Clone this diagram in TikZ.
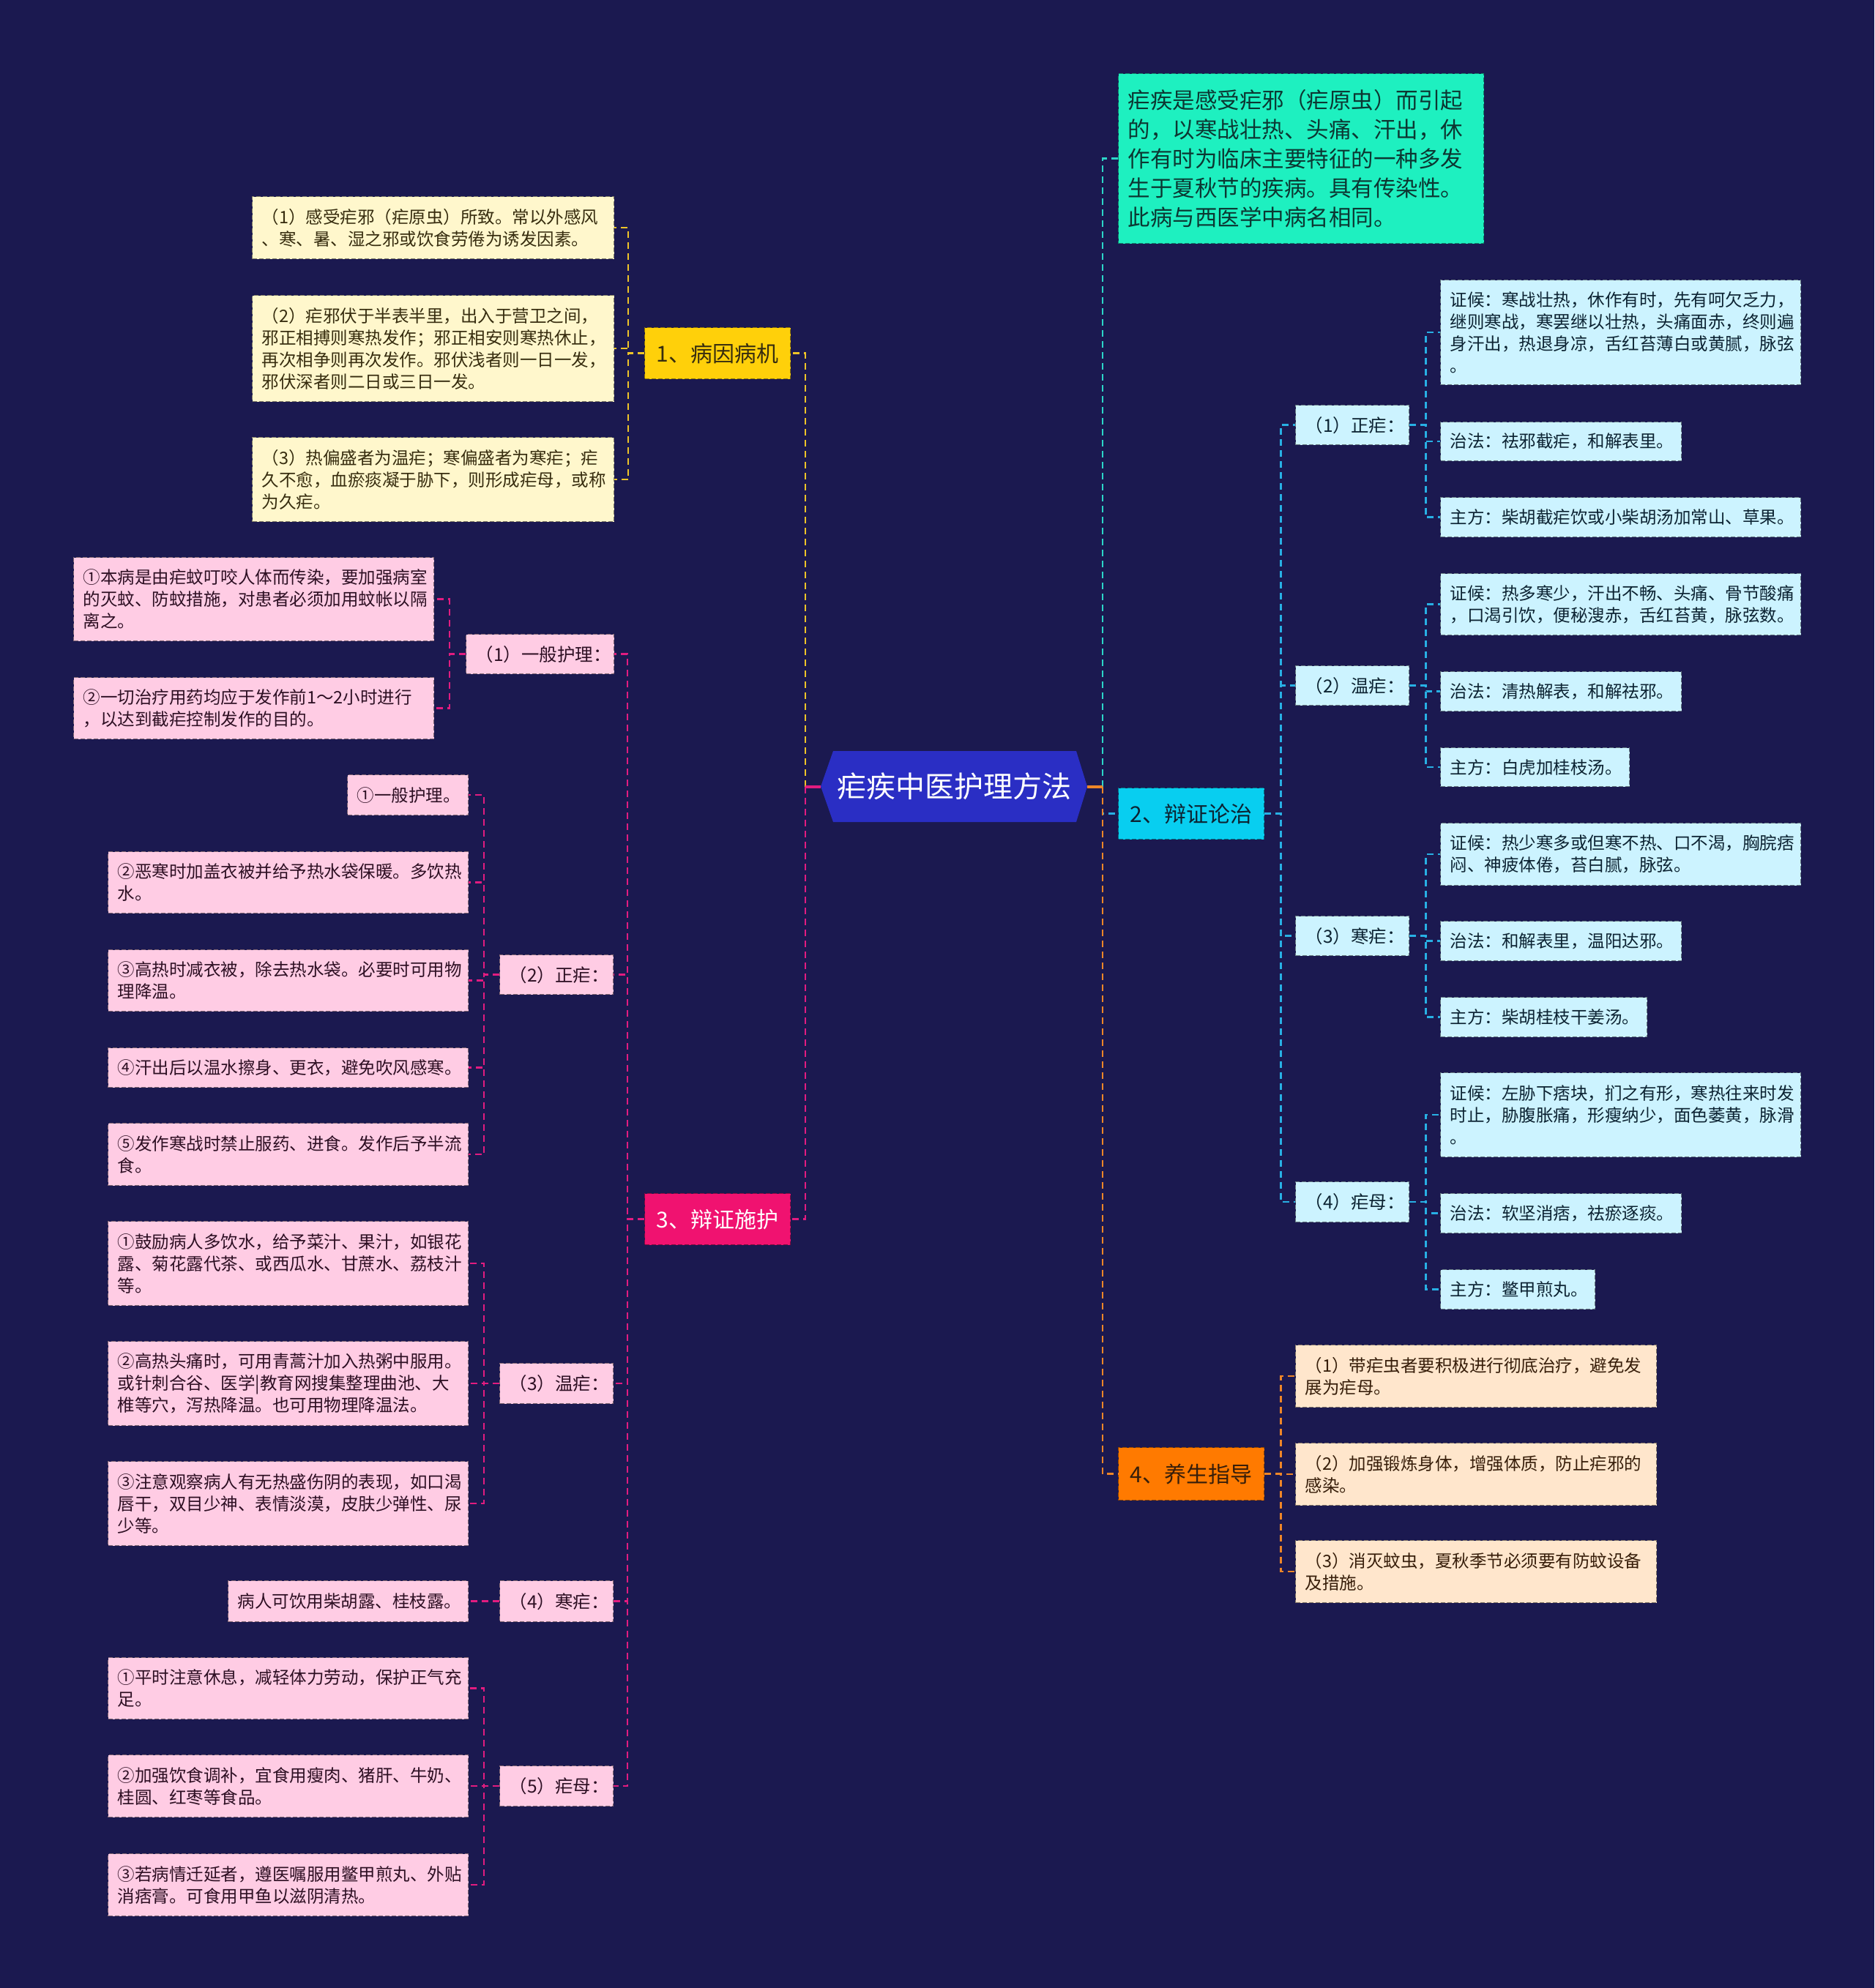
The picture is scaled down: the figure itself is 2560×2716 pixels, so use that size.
\documentclass[tikz,border=0pt]{standalone}
\usepackage{fontspec}
\setmainfont{Noto Sans CJK SC}
\definecolor{bg}{RGB}{27,25,80}
\definecolor{rootc}{RGB}{42,46,196}
\definecolor{ybr}{RGB}{255,208,10}
\definecolor{yleaf}{RGB}{255,247,204}
\definecolor{yln}{RGB}{238,196,40}
\definecolor{ytext}{RGB}{55,45,15}
\definecolor{pbr}{RGB}{240,18,112}
\definecolor{pleaf}{RGB}{255,204,228}
\definecolor{pln}{RGB}{226,28,128}
\definecolor{ptext}{RGB}{45,15,35}
\definecolor{cbr}{RGB}{8,206,240}
\definecolor{cleaf}{RGB}{204,243,255}
\definecolor{cln}{RGB}{40,176,228}
\definecolor{ctext}{RGB}{12,35,50}
\definecolor{tbox}{RGB}{30,240,192}
\definecolor{tln}{RGB}{44,214,200}
\definecolor{ttext}{RGB}{12,55,50}
\definecolor{obr}{RGB}{255,122,0}
\definecolor{oleaf}{RGB}{255,230,204}
\definecolor{oln}{RGB}{238,134,40}
\definecolor{otext}{RGB}{55,30,10}
\newcommand\bx[7]{\pgfmathsetmacro\bxw{#5-26}\node[#1,anchor=north west,text width=\bxw pt,minimum height=#6pt] (#2) at (#3,#4) {#7};}
\tikzset{
  boxbase/.style={rectangle, inner xsep=13pt, inner ysep=0pt, dashed, dash pattern=on 6pt off 3pt, line width=1.4pt},
  leaffont/.style={font=\fontsize{23.5}{30}\selectfont, align=left},
  midfont/.style={font=\fontsize{24.5}{30}\selectfont, align=center},
  brfont/.style={font=\fontsize{30}{36}\selectfont, align=center},
  yleafbox/.style={boxbase, leaffont, fill=yleaf, draw=yleaf!50!black, text=ytext},
  pleafbox/.style={boxbase, leaffont, fill=pleaf, draw=pleaf!50!black, text=ptext},
  pmidbox/.style={boxbase, midfont, fill=pleaf, draw=pleaf!50!black, text=ptext},
  cleafbox/.style={boxbase, leaffont, fill=cleaf, draw=cleaf!50!black, text=ctext},
  cmidbox/.style={boxbase, midfont, fill=cleaf, draw=cleaf!50!black, text=ctext},
  oleafbox/.style={boxbase, leaffont, fill=oleaf, draw=oleaf!50!black, text=otext},
  ybrbox/.style={boxbase, brfont, fill=ybr, draw=ybr!55!black, text=ytext},
  pbrbox/.style={boxbase, brfont, fill=pbr, draw=pbr!55!black, text=white},
  cbrbox/.style={boxbase, brfont, fill=cbr, draw=cbr!55!black, text=ctext},
  obrbox/.style={boxbase, brfont, fill=obr, draw=obr!55!black, text=otext},
  introbox/.style={boxbase, font=\fontsize{30.5}{40}\selectfont, align=left, fill=tbox, draw=tbox!55!black, text=ttext},
  conn/.style={dash pattern=on 9pt off 6pt, line width=2.5pt},
  solidconn/.style={line width=4pt},
}
\begin{document}
\begin{tikzpicture}[x=1pt,y=-1pt]
\fill[bg] (0,0) rectangle (2560,2716);
\useasboundingbox (0,0) rectangle (2560,2716);

% root
\fill[rootc] (1138,1026) -- (1470,1026) -- (1485,1074.5) -- (1470,1123) -- (1138,1123) -- (1121,1074.5) -- cycle;
\node[minimum width=364pt, minimum height=97pt, inner sep=0pt, text=white, font=\fontsize{40}{48}\selectfont] (root) at (1303,1074.5) {疟疾中医护理方法};

% intro
\bx{introbox}{intro}{1527}{100}{499}{232}{疟疾是感受疟邪（疟原虫）而引起\\的，以寒战壮热、头痛、汗出，休\\作有时为临床主要特征的一种多发\\生于夏秋节的疾病。具有传染性。\\此病与西医学中病名相同。}

% branch 1
\bx{ybrbox}{byjb}{880}{447}{199}{70}{1、病因病机}
\bx{yleafbox}{y1}{344}{268}{494}{85}{（1）感受疟邪（疟原虫）所致。常以外感风\\、寒、暑、湿之邪或饮食劳倦为诱发因素。}
\bx{yleafbox}{y2}{344}{403}{494}{145}{（2）疟邪伏于半表半里，出入于营卫之间，\\邪正相搏则寒热发作；邪正相安则寒热休止，\\再次相争则再次发作。邪伏浅者则一日一发，\\邪伏深者则二日或三日一发。}
\bx{yleafbox}{y3}{344}{597}{494}{115}{（3）热偏盛者为温疟；寒偏盛者为寒疟；疟\\久不愈，血瘀痰凝于胁下，则形成疟母，或称\\为久疟。}

% branch 3
\bx{pbrbox}{bzsh}{880}{1630}{199}{70}{3、辩证施护}
\bx{pmidbox}{p1}{636}{866}{202}{54}{（1）一般护理：}
\bx{pleafbox}{p1a}{100}{761}{492}{114}{①本病是由疟蚊叮咬人体而传染，要加强病室\\的灭蚊、防蚊措施，对患者必须加用蚊帐以隔\\离之。}
\bx{pleafbox}{p1b}{100}{925}{492}{84}{②一切治疗用药均应于发作前1～2小时进行\\，以达到截疟控制发作的目的。}
\bx{pmidbox}{p2}{682}{1304}{155}{54}{（2）正疟：}
\bx{pleafbox}{p2a}{474}{1058}{165}{55}{①一般护理。}
\bx{pleafbox}{p2b}{147}{1163}{492}{84}{②恶寒时加盖衣被并给予热水袋保暖。多饮热\\水。}
\bx{pleafbox}{p2c}{147}{1297}{492}{84}{③高热时减衣被，除去热水袋。必要时可用物\\理降温。}
\bx{pleafbox}{p2d}{147}{1431}{492}{54}{④汗出后以温水擦身、更衣，避免吹风感寒。}
\bx{pleafbox}{p2e}{147}{1534}{492}{85}{⑤发作寒战时禁止服药、进食。发作后予半流\\食。}
\bx{pmidbox}{p3}{682}{1862}{155}{55}{（3）温疟：}
\bx{pleafbox}{p3a}{147}{1668}{492}{115}{①鼓励病人多饮水，给予菜汁、果汁，如银花\\露、菊花露代茶、或西瓜水、甘蔗水、荔枝汁\\等。}
\bx{pleafbox}{p3b}{147}{1832}{492}{115}{②高热头痛时，可用青蒿汁加入热粥中服用。\\或针刺合谷、医学|教育网搜集整理曲池、大\\椎等穴，泻热降温。也可用物理降温法。}
\bx{pleafbox}{p3c}{147}{1996}{492}{115}{③注意观察病人有无热盛伤阴的表现，如口渴\\唇干，双目少神、表情淡漠，皮肤少弹性、尿\\少等。}
\bx{pmidbox}{p4}{682}{2159}{155}{56}{（4）寒疟：}
\bx{pleafbox}{p4a}{311}{2159}{328}{56}{病人可饮用柴胡露、桂枝露。}
\bx{pmidbox}{p5}{682}{2412}{155}{55}{（5）疟母：}
\bx{pleafbox}{p5a}{147}{2264}{492}{84}{①平时注意休息，减轻体力劳动，保护正气充\\足。}
\bx{pleafbox}{p5b}{147}{2397}{492}{85}{②加强饮食调补，宜食用瘦肉、猪肝、牛奶、\\桂圆、红枣等食品。}
\bx{pleafbox}{p5c}{147}{2532}{492}{85}{③若病情迁延者，遵医嘱服用鳖甲煎丸、外贴\\消痞膏。可食用甲鱼以滋阴清热。}

% branch 2
\bx{cbrbox}{bzlz}{1527}{1076}{199}{70}{2、辩证论治}
\bx{cmidbox}{c1}{1769}{553}{155}{54}{（1）正疟：}
\bx{cleafbox}{c1a}{1967}{382}{492}{143}{证候：寒战壮热，休作有时，先有呵欠乏力，\\继则寒战，寒罢继以壮热，头痛面赤，终则遍\\身汗出，热退身凉，舌红苔薄白或黄腻，脉弦\\。}
\bx{cleafbox}{c1b}{1967}{576}{329}{53}{治法：祛邪截疟，和解表里。}
\bx{cleafbox}{c1c}{1967}{679}{492}{54}{主方：柴胡截疟饮或小柴胡汤加常山、草果。}
\bx{cmidbox}{c2}{1769}{909}{155}{54}{（2）温疟：}
\bx{cleafbox}{c2a}{1967}{783}{492}{84}{证候：热多寒少，汗出不畅、头痛、骨节酸痛\\，口渴引饮，便秘溲赤，舌红苔黄，脉弦数。}
\bx{cleafbox}{c2b}{1967}{917}{329}{54}{治法：清热解表，和解祛邪。}
\bx{cleafbox}{c2c}{1967}{1021}{258}{53}{主方：白虎加桂枝汤。}
\bx{cmidbox}{c3}{1769}{1251}{155}{54}{（3）寒疟：}
\bx{cleafbox}{c3a}{1967}{1124}{492}{85}{证候：热少寒多或但寒不热、口不渴，胸脘痞\\闷、神疲体倦，苔白腻，脉弦。}
\bx{cleafbox}{c3b}{1967}{1258}{329}{54}{治法：和解表里，温阳达邪。}
\bx{cleafbox}{c3c}{1967}{1362}{282}{54}{主方：柴胡桂枝干姜汤。}
\bx{cmidbox}{c4}{1769}{1614}{155}{55}{（4）疟母：}
\bx{cleafbox}{c4a}{1967}{1465}{492}{115}{证候：左胁下痞块，扪之有形，寒热往来时发\\时止，胁腹胀痛，形瘦纳少，面色萎黄，脉滑\\。}
\bx{cleafbox}{c4b}{1967}{1630}{329}{54}{治法：软坚消痞，祛瘀逐痰。}
\bx{cleafbox}{c4c}{1967}{1734}{211}{54}{主方：鳖甲煎丸。}

% branch 4
\bx{obrbox}{yszd}{1527}{1977}{199}{72}{4、养生指导}
\bx{oleafbox}{o1}{1769}{1837}{493}{85}{（1）带疟虫者要积极进行彻底治疗，避免发\\展为疟母。}
\bx{oleafbox}{o2}{1769}{1971}{493}{85}{（2）加强锻炼身体，增强体质，防止疟邪的\\感染。}
\bx{oleafbox}{o3}{1769}{2104}{493}{85}{（3）消灭蚊虫，夏秋季节必须要有防蚊设备\\及措施。}

% root connectors
\coordinate (lj) at (1100,1074.5);
\coordinate (rj) at (1506,1074.5);
\draw[conn, yln] (lj) |- (byjb.east);
\draw[conn, pln] (lj) |- (bzsh.east);
\draw[conn, tln] (rj) |- (intro.west);
\draw[conn, cln] (rj) |- (bzlz.west);
\draw[conn, oln] (rj) |- (yszd.west);
\draw[solidconn, pln] (root.west) -- (lj);
\draw[solidconn, oln] (root.east) -- (rj);

% branch connectors
\foreach \c in {y1,y2,y3} \draw[conn, yln] (byjb.west) -- ++(-22,0) |- (\c.east);
\foreach \c in {p1,p2,p3,p4,p5} \draw[conn, pln] (bzsh.west) -- ++(-23,0) |- (\c.east);
\foreach \c in {p1a,p1b} \draw[conn, pln] (p1.west) -- ++(-22,0) |- (\c.east);
\foreach \c in {p2a,p2b,p2c,p2d,p2e} \draw[conn, pln] (p2.west) -- ++(-21,0) |- (\c.east);
\foreach \c in {p3a,p3b,p3c} \draw[conn, pln] (p3.west) -- ++(-21,0) |- (\c.east);
\draw[conn, pln] (p4.west) -- (p4a.east);
\foreach \c in {p5a,p5b,p5c} \draw[conn, pln] (p5.west) -- ++(-21,0) |- (\c.east);
\foreach \c in {c1,c2,c3,c4} \draw[conn, cln] (bzlz.east) -- ++(22,0) |- (\c.west);
\foreach \c in {c1a,c1b,c1c} \draw[conn, cln] (c1.east) -- ++(22,0) |- (\c.west);
\foreach \c in {c2a,c2b,c2c} \draw[conn, cln] (c2.east) -- ++(22,0) |- (\c.west);
\foreach \c in {c3a,c3b,c3c} \draw[conn, cln] (c3.east) -- ++(22,0) |- (\c.west);
\foreach \c in {c4a,c4b,c4c} \draw[conn, cln] (c4.east) -- ++(22,0) |- (\c.west);
\foreach \c in {o1,o2,o3} \draw[conn, oln] (yszd.east) -- ++(22,0) |- (\c.west);
\end{tikzpicture}
\end{document}
